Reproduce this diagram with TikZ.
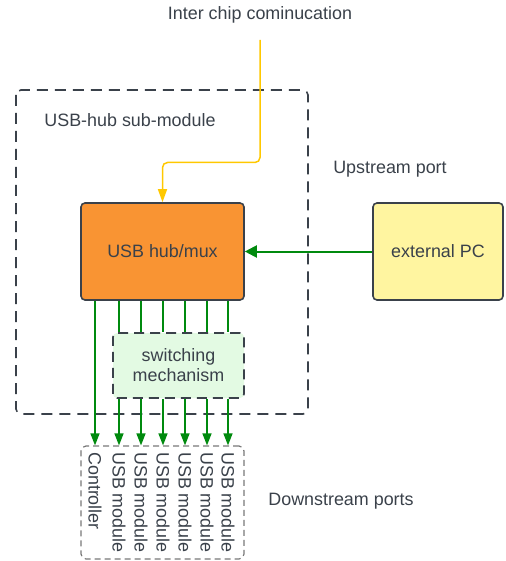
\documentclass[tikz,border=0pt]{standalone}
\usepackage{fontspec}
\setmainfont{Liberation Sans}
\usetikzlibrary{arrows.meta}
\definecolor{ink}{RGB}{58,65,74}
\definecolor{hubfill}{RGB}{249,148,51}
\definecolor{pcfill}{RGB}{255,245,160}
\definecolor{swfill}{RGB}{227,250,227}
\definecolor{linkgreen}{RGB}{0,138,14}
\definecolor{linkyellow}{RGB}{255,200,0}
\definecolor{dashgray}{RGB}{120,120,120}
\tikzset{
  txt/.style={text=ink, font=\fontsize{17.9}{21}\selectfont, inner sep=0pt},
  block/.style={txt, draw=ink, line width=1.6pt, rounded corners=4pt, align=center},
  greenlink/.style={draw=linkgreen, line width=1.5pt},
  greenarrow/.style={greenlink, -{Triangle[width=9pt,length=12pt]}},
  portlabel/.style={txt, rotate=-90, anchor=west},
}
\begin{document}
\begin{tikzpicture}[x=1pt,y=-1pt]
\useasboundingbox (0,0) rectangle (505,561);

% sub-module frame
\draw[ink, line width=1.6pt, dash pattern=on 11pt off 7pt, rounded corners=5pt]
  (16,90) rectangle (308,414);
\node[txt] (sublabel) at (130,120) {USB-hub sub-module};

% main blocks
\node[block, fill=hubfill, minimum width=163pt, minimum height=97pt] (hub) at (162.5,251.5) {USB hub/mux};
\node[block, fill=pcfill, minimum width=130pt, minimum height=97pt] (pc) at (438,251.5) {external PC};
\node[block, fill=swfill, dash pattern=on 10pt off 6pt, minimum width=131pt, minimum height=65pt] (sw) at (178.5,365.5) {switching\\[-1pt]mechanism};
\node[draw=dashgray, line width=1.2pt, dash pattern=on 6pt off 4pt, rounded corners=5pt,
      minimum width=163pt, minimum height=113pt, inner sep=0pt] (down) at (162.5,502.5) {};

% captions
\node[txt] (chip) at (260,15) {Inter chip cominucation};
\node[txt] (up) at (390,169) {Upstream port};
\node[txt] (dn) at (341,501) {Downstream ports};

% inter chip link
\coordinate (chiptop) at (260,40);
\draw[draw=linkyellow, line width=1.5pt, rounded corners=5pt, -{Triangle[width=9pt,length=13pt]}]
  (chiptop) |- (162.5,162.5) -- (hub.north);

% upstream link
\draw[greenlink, line width=2pt, -{Triangle[width=12pt,length=12pt]}] (pc.west) -- (hub.east);

% downstream links
\coordinate (c0) at (95,0);
\draw[greenarrow] (hub.south -| c0) -- (down.north -| c0);
\foreach \i/\x in {1/119,2/141,3/163,4/185,5/207,6/228}{
  \coordinate (c\i) at (\x,0);
  \draw[greenlink] (hub.south -| c\i) -- (sw.north -| c\i);
  \draw[greenarrow] (sw.south -| c\i) -- (down.north -| c\i);
}

% port names
\node[portlabel] (p0) at (95,452) {Controller};
\foreach \i/\x in {1/119,2/141,3/163,4/185,5/207,6/228}{
  \node[portlabel] (p\i) at (\x,452) {USB module};
}
\end{tikzpicture}
\end{document}
